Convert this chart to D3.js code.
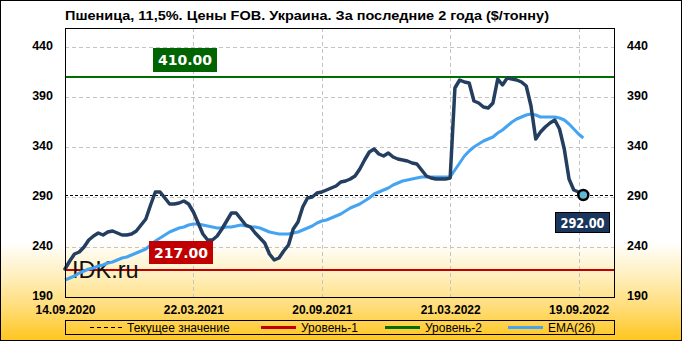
<!DOCTYPE html>
<html>
<head>
<meta charset="utf-8">
<script src="https://cdn.jsdelivr.net/npm/d3@7"></script>
<style>
  body { margin: 0; background: #fff; }
  svg { display: block; }
  text { font-family: "Liberation Sans", Arial, sans-serif; }
</style>
</head>
<body>
<svg id="chart" width="682" height="341"></svg>
<script>
// weekly prices, $/t
var prices = [218, 226, 233, 235, 240, 247, 251, 254, 252, 255,
  256, 254, 252, 252, 253, 256, 262, 268, 282, 295,
  295, 289, 283, 283, 284, 286, 283, 275, 264, 253,
  247, 247, 251, 258, 266, 274, 274, 268, 262, 260,
  254, 249, 244, 233, 227, 229, 236, 242, 258, 265,
  280, 289, 290, 294, 295, 297, 299, 301, 305, 306,
  308, 311, 318, 327, 335, 338, 333, 331, 334, 330,
  328, 327, 326, 324, 323, 317, 311, 309, 308, 308,
  308, 309, 399, 407, 405, 404, 386, 384, 380, 379,
  384, 408, 402, 409, 408, 407, 405, 401, 381, 348,
  355, 360, 364, 367, 358, 338, 308, 297, 295, 292];

var ema = [207, 209, 211, 214, 216, 218, 219, 221, 222, 224,
  225, 227, 229, 230, 232, 234, 236, 238, 242, 246,
  249, 252, 255, 257, 259, 260, 262, 263, 263, 262,
  261, 260, 259, 259, 260, 260, 261, 262, 261, 260,
  260, 259, 257, 255, 254, 253, 253, 253, 254, 255,
  257, 259, 261, 264, 266, 267, 269, 271, 273, 276,
  279, 281, 283, 286, 289, 293, 295, 297, 299, 302,
  304, 306, 307, 308, 309, 310, 310, 310, 310, 310,
  310, 310, 317, 324, 331, 336, 340, 343, 346, 348,
  350, 354, 357, 361, 365, 368, 370, 372, 373, 372,
  370, 370, 370, 370, 369, 367, 363, 358, 353, 349];

var tickIdx = [0, 27, 54, 81, 108];
var tickLabels = ["14.09.2020", "22.03.2021", "20.09.2021", "21.03.2022", "19.09.2022"];
var yTicks = [190, 240, 290, 340, 390, 440];

var level1 = 217;
var level2 = 410;
var current = 292;

var legendNames = ["Текущее значение", "Уровень-1", "Уровень-2", "EMA(26)"];

var title = "Пшеница,  11,5%. Цены FOB.  Украина. За последние 2 года ($/тонну)";

var svg = d3.select("#chart");
var pL = 65, pR = 615, pT = 28, pB = 298;

var defs = svg.append("defs");
var grad = defs.append("linearGradient").attr("id", "bg")
  .attr("x1", 0).attr("y1", 0).attr("x2", 0).attr("y2", 1);
grad.append("stop").attr("offset", "0").attr("stop-color", "#ffffff");
grad.append("stop").attr("offset", "0.71").attr("stop-color", "#ffffff");
grad.append("stop").attr("offset", "0.80").attr("stop-color", "#fff1c4");
grad.append("stop").attr("offset", "0.90").attr("stop-color", "#ffdd7a");
grad.append("stop").attr("offset", "1").attr("stop-color", "#ffc61f");

svg.append("rect").attr("x", 0.5).attr("y", 0.5).attr("width", 681).attr("height", 340)
  .attr("fill", "url(#bg)").attr("stroke", "#000");

var x = d3.scaleLinear().domain([0, prices.length - 1]).range([pL, 583.3]);
var y = d3.scaleLinear().domain([189, 459]).range([pB, pT]);

// grid
svg.append("g").selectAll("line").data(yTicks.slice(1)).join("line")
  .attr("x1", pL).attr("x2", pR)
  .attr("y1", function(d) { return Math.round(y(d)) + 0.5; })
  .attr("y2", function(d) { return Math.round(y(d)) + 0.5; })
  .attr("stroke", "#c4c4c4").attr("stroke-dasharray", "4,3");
svg.append("g").selectAll("line").data(tickIdx.slice(1)).join("line")
  .attr("x1", function(d) { return Math.round(x(d)) + 0.5; })
  .attr("x2", function(d) { return Math.round(x(d)) + 0.5; })
  .attr("y1", pT).attr("y2", pB)
  .attr("stroke", "#c4c4c4").attr("stroke-dasharray", "4,3");

// levels
svg.append("line").attr("x1", pL).attr("x2", pR)
  .attr("y1", y(level2)).attr("y2", y(level2))
  .attr("stroke", "#006e00").attr("stroke-width", 2);
svg.append("line").attr("x1", pL).attr("x2", pR)
  .attr("y1", y(level1)).attr("y2", y(level1))
  .attr("stroke", "#c00000").attr("stroke-width", 2);
svg.append("line").attr("x1", pL).attr("x2", pR)
  .attr("y1", Math.round(y(current)) + 0.5).attr("y2", Math.round(y(current)) + 0.5)
  .attr("stroke", "#000").attr("stroke-dasharray", "3,2");

// watermark
svg.append("text").attr("x", 72).attr("y", 278).text("IDK.ru")
  .attr("font-size", 23.5).attr("fill", "#111");

var line = d3.line()
  .x(function(d, i) { return x(i); })
  .y(function(d) { return y(d); });

svg.append("path").datum(ema).attr("d", line)
  .attr("fill", "none").attr("stroke", "#45a4f2").attr("stroke-width", 3)
  .attr("stroke-linejoin", "round");
svg.append("path").datum(prices).attr("d", line)
  .attr("fill", "none").attr("stroke", "#243e5f").attr("stroke-width", 3.5)
  .attr("stroke-linejoin", "round").attr("stroke-linecap", "round");

var last = prices.length - 1;
svg.append("circle").attr("cx", x(last)).attr("cy", y(prices[last])).attr("r", 5)
  .attr("fill", "#5fb7d6").attr("stroke", "#000").attr("stroke-width", 2.5);

// value labels
function tag(cx, cy, w, h, fill, txt, stroke) {
  svg.append("rect").attr("x", cx).attr("y", cy).attr("width", w).attr("height", h)
    .attr("fill", fill).attr("stroke", stroke || "none");
  svg.append("text").attr("x", cx + w / 2).attr("y", cy + h / 2)
    .attr("dy", "0.36em").attr("text-anchor", "middle")
    .attr("fill", "#fff").attr("font-weight", "bold")
    .style("font-family", "'DejaVu Sans', Verdana, sans-serif")
    .attr("font-size", 14.5)
    .attr("textLength", w - 10).attr("lengthAdjust", "spacingAndGlyphs")
    .text(txt);
}
tag(153, 48, 64, 24, "#006400", level2.toFixed(2));
tag(149, 241, 64, 23, "#c00000", level1.toFixed(2));
tag(555.5, 212.5, 54, 20, "#1b365d", current.toFixed(2), "#000");

// frame
svg.append("rect").attr("x", pL + 0.5).attr("y", pT + 0.5)
  .attr("width", pR - pL - 1).attr("height", pB - pT - 1)
  .attr("fill", "none").attr("stroke", "#000");

// axes
var yl = svg.append("g").attr("transform", "translate(" + pL + ",0)")
  .call(d3.axisLeft(y).tickValues(yTicks).tickSize(0).tickPadding(12));
var yr = svg.append("g").attr("transform", "translate(" + pR + ",0)")
  .call(d3.axisRight(y).tickValues(yTicks).tickSize(0).tickPadding(12));
var xa = svg.append("g").attr("transform", "translate(0," + pB + ")")
  .call(d3.axisBottom(x).tickValues(tickIdx).tickSize(0).tickPadding(7)
    .tickFormat(function(d, i) { return tickLabels[i]; }));
[yl, yr, xa].forEach(function(g) {
  g.select(".domain").remove();
  g.selectAll("text").attr("fill", "#000").attr("font-weight", "bold")
    .attr("font-size", 12.5).style("font-family", "'Liberation Sans', Arial, sans-serif");
});
yl.selectAll("text").attr("dy", "0.2em");
yr.selectAll("text").attr("dy", "0.2em");
xa.selectAll("text").attr("font-size", 12);

// title
svg.append("text").attr("x", 65).attr("y", 20).text(title)
  .attr("font-weight", "bold").attr("font-size", 12.5)
  .attr("textLength", 484).attr("lengthAdjust", "spacingAndGlyphs");

// legend
var legX = [90, 261, 385, 508];
var legW = [32, 35, 35, 35];
var legColors = ["#000", "#c00000", "#006e00", "#45a4f2"];
svg.append("rect").attr("x", pL + 0.5).attr("y", 320.5)
  .attr("width", pR - pL - 1).attr("height", 14)
  .attr("fill", "none").attr("stroke", "#000");
var items = svg.append("g").selectAll("g").data(legendNames).join("g");
items.append("line")
  .attr("x1", function(d, i) { return legX[i]; })
  .attr("x2", function(d, i) { return legX[i] + legW[i]; })
  .attr("y1", 327.5).attr("y2", 327.5)
  .attr("stroke", function(d, i) { return legColors[i]; })
  .attr("stroke-width", function(d, i) { return i == 0 ? 1 : 3; })
  .attr("stroke-dasharray", function(d, i) { return i == 0 ? "4,3" : null; });
items.append("text")
  .attr("x", function(d, i) { return legX[i] + legW[i] + 5; })
  .attr("y", 332).attr("font-size", 12).attr("fill", "#000")
  .text(function(d) { return d; });
</script>
</body>
</html>
